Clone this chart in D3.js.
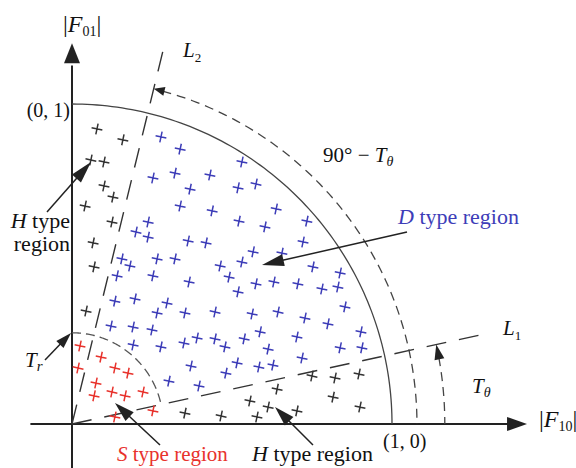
<!DOCTYPE html>
<html>
<head>
<meta charset="utf-8">
<script src="https://cdn.jsdelivr.net/npm/d3@7"></script>
<style>
  body { margin: 0; background: #fff; }
  svg { display: block; font-family: "Liberation Serif", "Times New Roman", serif; }
</style>
</head>
<body>
<svg id="chart" width="576" height="468"></svg>
<script>
// threshold settings (angles in degrees, radii in units of |F|)
var thetaL1 = 12.3;
var thetaL2 = 76.3;
var radiusTr = 0.285;
var radiusOuter = 1.078;   // 90 - T_theta arc
var radiusTheta = 1.165;   // T_theta arc

// H type points close to the |F01| axis
var hTypeUpper = [
    [0.078, 0.922], [0.159, 0.888], [0.059, 0.825], [0.100, 0.819], [0.100, 0.744],
    [0.128, 0.709], [0.041, 0.681], [0.125, 0.631], [0.066, 0.566], [0.069, 0.491],
    [0.044, 0.353]
];

// H type points close to the |F10| axis
var hTypeLower = [
    [0.353, 0.034], [0.466, 0.025], [0.556, 0.072], [0.578, 0.022], [0.613, 0.053],
    [0.641, 0.109], [0.703, 0.041], [0.750, 0.150], [0.822, 0.144], [0.897, 0.156],
    [0.816, 0.084], [0.900, 0.053]
];

// S type points (inside T_r)
var sType = [
    [0.025, 0.244], [0.091, 0.209], [0.019, 0.175], [0.134, 0.175], [0.175, 0.159],
    [0.075, 0.128], [0.069, 0.088], [0.125, 0.100], [0.166, 0.088], [0.222, 0.100],
    [0.134, 0.022], [0.253, 0.041]
];

// D type points
var dType = [
    [0.278, 0.897], [0.338, 0.859], [0.531, 0.819], [0.253, 0.769], [0.322, 0.784],
    [0.431, 0.778], [0.369, 0.734], [0.519, 0.738], [0.575, 0.750], [0.338, 0.681],
    [0.438, 0.666], [0.638, 0.672], [0.238, 0.631], [0.522, 0.634], [0.603, 0.616],
    [0.734, 0.634], [0.200, 0.600], [0.238, 0.584], [0.363, 0.572], [0.419, 0.566],
    [0.722, 0.569], [0.156, 0.516], [0.181, 0.494], [0.266, 0.516], [0.322, 0.516],
    [0.463, 0.494], [0.566, 0.538], [0.656, 0.534], [0.531, 0.506], [0.491, 0.459],
    [0.753, 0.491], [0.838, 0.472], [0.141, 0.463], [0.253, 0.463], [0.366, 0.444],
    [0.519, 0.413], [0.575, 0.438], [0.631, 0.444], [0.706, 0.438], [0.781, 0.422],
    [0.831, 0.428], [0.134, 0.384], [0.197, 0.391], [0.297, 0.378], [0.853, 0.366],
    [0.266, 0.347], [0.353, 0.347], [0.447, 0.350], [0.563, 0.344], [0.644, 0.350],
    [0.728, 0.331], [0.800, 0.313], [0.122, 0.306], [0.191, 0.303], [0.250, 0.294],
    [0.588, 0.288], [0.903, 0.288], [0.191, 0.247], [0.278, 0.241], [0.350, 0.253],
    [0.391, 0.269], [0.447, 0.266], [0.478, 0.241], [0.538, 0.266], [0.703, 0.272],
    [0.613, 0.234], [0.838, 0.238], [0.906, 0.238], [0.719, 0.206], [0.372, 0.181],
    [0.516, 0.191], [0.584, 0.178], [0.628, 0.184], [0.481, 0.159], [0.303, 0.134],
    [0.397, 0.119]
];

var svg = d3.select("#chart");

// scales: unit circle mapped onto the picture
var x = d3.scaleLinear().domain([0, 1]).range([72, 392]);
var y = d3.scaleLinear().domain([0, 1]).range([424, 104]);

var ink = "#222";
var blue = "#3d3db8";
var red = "#e8322c";

// polar helper
function polar(r, deg) {
    var a = deg * Math.PI / 180;
    return [r * Math.cos(a), r * Math.sin(a)];
}

var line = d3.line()
    .x(function(d) { return x(d[0]); })
    .y(function(d) { return y(d[1]); });

function arcPoints(r, a0, a1) {
    return d3.range(0, 101).map(function(i) {
        return polar(r, a0 + (a1 - a0) * i / 100);
    });
}

// filled arrow head, tip at (tx,ty) pointing along angle ang (screen radians)
function arrowHead(tx, ty, ang, len, half) {
    var bx = tx - len * Math.cos(ang), by = ty - len * Math.sin(ang);
    var nx = -Math.sin(ang) * half, ny = Math.cos(ang) * half;
    svg.append("path")
        .attr("d", "M" + tx + "," + ty + "L" + (bx + nx) + "," + (by + ny) + "L" + (bx - nx) + "," + (by - ny) + "Z")
        .attr("fill", ink);
}

// straight pointer with arrow head
function pointer(x1, y1, x2, y2, len, half) {
    var ang = Math.atan2(y2 - y1, x2 - x1);
    svg.append("line")
        .attr("x1", x1).attr("y1", y1)
        .attr("x2", x2 - (len - 2) * Math.cos(ang)).attr("y2", y2 - (len - 2) * Math.sin(ang))
        .attr("stroke", ink).attr("stroke-width", 1.5);
    arrowHead(x2, y2, ang, len, half);
}

// axes
svg.append("line")
    .attr("x1", x(-0.13)).attr("y1", y(0)).attr("x2", x(1.38)).attr("y2", y(0))
    .attr("stroke", ink).attr("stroke-width", 2);
arrowHead(x(1.422), y(0), 0, 20, 7);
svg.append("line")
    .attr("x1", x(0)).attr("y1", y(-0.15)).attr("x2", x(0)).attr("y2", y(1.12))
    .attr("stroke", ink).attr("stroke-width", 2);
arrowHead(x(0), y(1.19), -Math.PI / 2, 20, 8);

// unit circle
svg.append("path")
    .attr("d", line(arcPoints(1, 0, 90)))
    .attr("fill", "none").attr("stroke", "#444").attr("stroke-width", 1.3);

// T_r arc
svg.append("path")
    .attr("d", line(arcPoints(radiusTr, 90, thetaL1)))
    .attr("fill", "none").attr("stroke", "#555").attr("stroke-width", 1.3)
    .attr("stroke-dasharray", "9,5");

// L1 and L2
svg.append("path")
    .attr("d", line([[0, 0], polar(1.34, thetaL1)]))
    .attr("stroke", "#333").attr("stroke-width", 1.4).attr("stroke-dasharray", "20,13");
svg.append("path")
    .attr("d", line([[0, 0], polar(1.2, thetaL2)]))
    .attr("stroke", "#333").attr("stroke-width", 1.4).attr("stroke-dasharray", "20,13");

// 90 - T_theta arc with arrow at L2
svg.append("path")
    .attr("d", line(arcPoints(radiusOuter, thetaL2 - 1.5, 0)))
    .attr("fill", "none").attr("stroke", "#444").attr("stroke-width", 1.3)
    .attr("stroke-dasharray", "9,6");
var tipO = polar(radiusOuter, thetaL2);
var a2 = thetaL2 * Math.PI / 180;
arrowHead(x(tipO[0]), y(tipO[1]), Math.atan2(-Math.cos(a2), -Math.sin(a2)), 11, 4.5);

// T_theta arc with arrow at L1
svg.append("path")
    .attr("d", line(arcPoints(radiusTheta, thetaL1 - 2, 0)))
    .attr("fill", "none").attr("stroke", "#444").attr("stroke-width", 1.3)
    .attr("stroke-dasharray", "9,6");
var tipT = polar(radiusTheta, thetaL1);
var a1 = thetaL1 * Math.PI / 180;
arrowHead(x(tipT[0]), y(tipT[1]), Math.atan2(-Math.cos(a1), -Math.sin(a1)), 15, 5);

// markers
function drawPoints(pts, color) {
    svg.append("g").selectAll("path")
        .data(pts)
        .enter()
        .append("path")
        .attr("d", "M-5.5,0H5.5M0,-5.5V5.5")
        .attr("transform", function(d) {
            return "translate(" + x(d[0]) + "," + y(d[1]) + ") rotate(12)";
        })
        .attr("stroke", color)
        .attr("stroke-width", 1.5)
        .attr("fill", "none");
}
drawPoints(hTypeUpper, "#333");
drawPoints(hTypeLower, "#333");
drawPoints(sType, red);
drawPoints(dType, blue);

// pointers to regions
pointer(47, 212, 91, 162, 22, 6);
pointer(407, 232, 262, 265, 22, 6);
pointer(45, 360, 71, 333, 16, 5);
pointer(160, 445, 115, 403, 20, 6);
pointer(313, 445, 275, 407, 20, 6);

// labels
function label(tx, ty, parts, size, color, anchor) {
    var t = svg.append("text")
        .attr("x", tx).attr("y", ty)
        .attr("font-size", size)
        .attr("fill", color || "#111")
        .attr("text-anchor", anchor || "start");
    parts.forEach(function(p) {
        var s = t.append("tspan").text(p.t);
        if (p.i) s.attr("font-style", "italic");
        if (p.dy) s.attr("dy", p.dy);
        if (p.fs) s.attr("font-size", p.fs);
    });
    return t;
}

label(63, 32, [{t: "|"}, {t: "F", i: 1}, {t: "01", fs: 14, dy: 4}, {t: "|", dy: -4}], 24);
label(539, 427, [{t: "|"}, {t: "F", i: 1}, {t: "10", fs: 14, dy: 4}, {t: "|", dy: -4}], 24);
label(70, 117, [{t: "(0, 1)"}], 20, "#111", "end");
label(383, 448, [{t: "(1, 0)"}], 20);
label(183, 57, [{t: "L", i: 1}, {t: "2", fs: 13, dy: 5}], 21);
label(503, 335, [{t: "L", i: 1}, {t: "1", fs: 13, dy: 5}], 21);
label(323, 162, [{t: "90° − "}, {t: "T", i: 1}, {t: "θ", i: 1, fs: 14, dy: 4}], 21);
label(472, 393, [{t: "T", i: 1}, {t: "θ", i: 1, fs: 14, dy: 4}], 21);
label(25, 367, [{t: "T", i: 1}, {t: "r", i: 1, fs: 15, dy: 4}], 21);
label(398, 224, [{t: "D", i: 1}, {t: " type region"}], 22, blue);
label(70, 228, [{t: "H", i: 1}, {t: " type"}], 22, "#111", "end");
label(70, 251, [{t: "region"}], 22, "#111", "end");
label(117, 461, [{t: "S", i: 1}, {t: " type region"}], 21, red);
label(252, 461, [{t: "H", i: 1}, {t: " type region"}], 22);
</script>
</body>
</html>
